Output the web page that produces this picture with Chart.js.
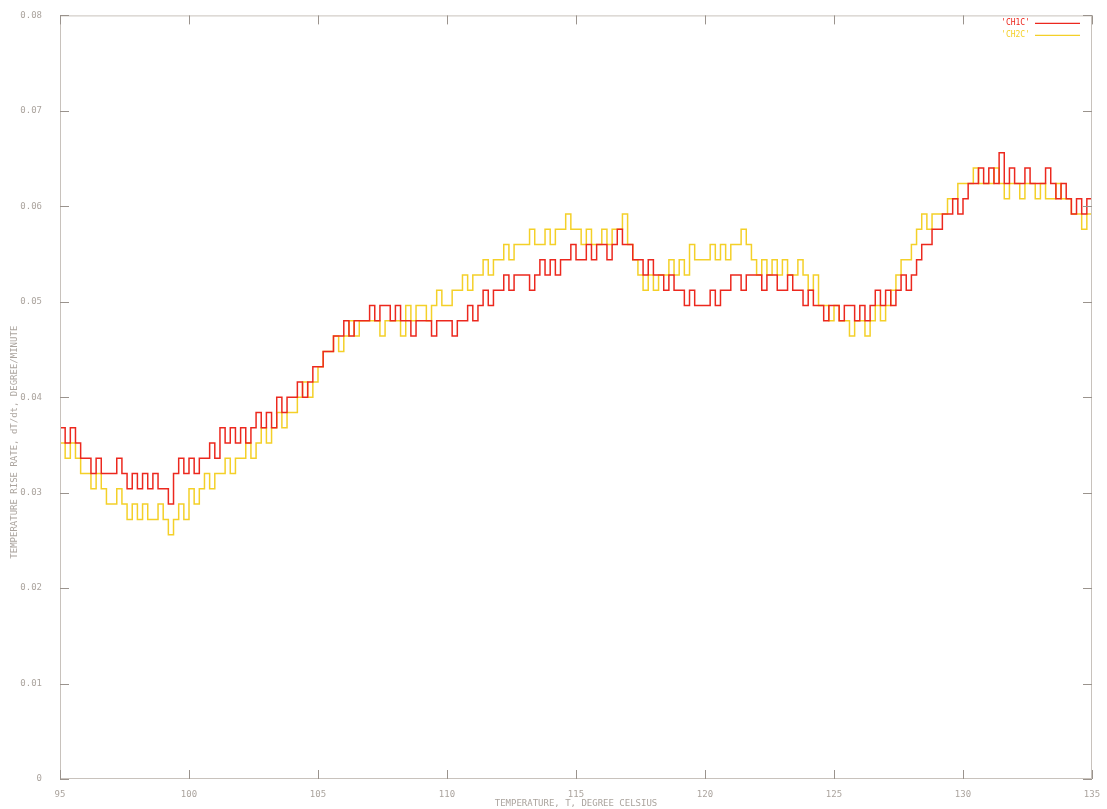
<!DOCTYPE html>
<html>
<head>
<meta charset="utf-8">
<script src="https://cdn.jsdelivr.net/npm/chart.js@4/dist/chart.umd.min.js"></script>
<style>
html,body{margin:0;padding:0;background:#fff;}
#wrap{width:1107px;height:809px;position:relative;}
</style>
</head>
<body>
<div id="wrap"><canvas id="c" width="1107" height="809"></canvas></div>
<script>
// Temperature grid (degree Celsius), 0.2 deg sampling from 95 to 135
const tStart = 95;
const tStep = 0.2;
const seriesNames = ["'CH1C'", "'CH2C'"];
const xTickLabels = [95, 100, 105, 110, 115, 120, 125, 130, 135];
const yTickLabels = [0, 0.01, 0.02, 0.03, 0.04, 0.05, 0.06, 0.07, 0.08];
const yTitle = 'TEMPERATURE RISE RATE, dT/dt, DEGREE/MINUTE';
const xTitle = 'TEMPERATURE, T, DEGREE CELSIUS';

// dT/dt, degree/minute — channel 1 (red)
const ch1 = [
  0.0368,0.0352,0.0368,0.0352,0.0336,
  0.0336,0.0320,0.0336,0.0320,0.0320,
  0.0320,0.0336,0.0320,0.0304,0.0320,
  0.0304,0.0320,0.0304,0.0320,0.0304,
  0.0304,0.0288,0.0320,0.0336,0.0320,
  0.0336,0.0320,0.0336,0.0336,0.0352,
  0.0336,0.0368,0.0352,0.0368,0.0352,
  0.0368,0.0352,0.0368,0.0384,0.0368,
  0.0384,0.0368,0.0400,0.0384,0.0400,
  0.0400,0.0416,0.0400,0.0416,0.0432,
  0.0432,0.0448,0.0448,0.0464,0.0464,
  0.0480,0.0464,0.0480,0.0480,0.0480,
  0.0496,0.0480,0.0496,0.0496,0.0480,
  0.0496,0.0480,0.0480,0.0464,0.0480,
  0.0480,0.0480,0.0464,0.0480,0.0480,
  0.0480,0.0464,0.0480,0.0480,0.0496,
  0.0480,0.0496,0.0512,0.0496,0.0512,
  0.0512,0.0528,0.0512,0.0528,0.0528,
  0.0528,0.0512,0.0528,0.0544,0.0528,
  0.0544,0.0528,0.0544,0.0544,0.0560,
  0.0544,0.0544,0.0560,0.0544,0.0560,
  0.0560,0.0544,0.0560,0.0576,0.0560,
  0.0560,0.0544,0.0544,0.0528,0.0544,
  0.0528,0.0528,0.0512,0.0528,0.0512,
  0.0512,0.0496,0.0512,0.0496,0.0496,
  0.0496,0.0512,0.0496,0.0512,0.0512,
  0.0528,0.0528,0.0512,0.0528,0.0528,
  0.0528,0.0512,0.0528,0.0528,0.0512,
  0.0512,0.0528,0.0512,0.0512,0.0496,
  0.0512,0.0496,0.0496,0.0480,0.0496,
  0.0496,0.0480,0.0496,0.0496,0.0480,
  0.0496,0.0480,0.0496,0.0512,0.0496,
  0.0512,0.0496,0.0512,0.0528,0.0512,
  0.0528,0.0544,0.0560,0.0560,0.0576,
  0.0576,0.0592,0.0592,0.0608,0.0592,
  0.0608,0.0624,0.0624,0.0640,0.0624,
  0.0640,0.0624,0.0656,0.0624,0.0640,
  0.0624,0.0624,0.0640,0.0624,0.0624,
  0.0624,0.0640,0.0624,0.0608,0.0624,
  0.0608,0.0592,0.0608,0.0592,0.0608,
  0.0592
];

// dT/dt, degree/minute — channel 2 (yellow)
const ch2 = [
  0.0352,0.0336,0.0352,0.0336,0.0320,
  0.0320,0.0304,0.0320,0.0304,0.0288,
  0.0288,0.0304,0.0288,0.0272,0.0288,
  0.0272,0.0288,0.0272,0.0272,0.0288,
  0.0272,0.0256,0.0272,0.0288,0.0272,
  0.0304,0.0288,0.0304,0.0320,0.0304,
  0.0320,0.0320,0.0336,0.0320,0.0336,
  0.0336,0.0352,0.0336,0.0352,0.0368,
  0.0352,0.0368,0.0384,0.0368,0.0384,
  0.0384,0.0400,0.0416,0.0400,0.0416,
  0.0432,0.0448,0.0448,0.0464,0.0448,
  0.0464,0.0480,0.0464,0.0480,0.0480,
  0.0480,0.0480,0.0464,0.0480,0.0480,
  0.0480,0.0464,0.0496,0.0480,0.0496,
  0.0496,0.0480,0.0496,0.0512,0.0496,
  0.0496,0.0512,0.0512,0.0528,0.0512,
  0.0528,0.0528,0.0544,0.0528,0.0544,
  0.0544,0.0560,0.0544,0.0560,0.0560,
  0.0560,0.0576,0.0560,0.0560,0.0576,
  0.0560,0.0576,0.0576,0.0592,0.0576,
  0.0576,0.0560,0.0576,0.0560,0.0560,
  0.0576,0.0560,0.0576,0.0576,0.0592,
  0.0560,0.0544,0.0528,0.0512,0.0528,
  0.0512,0.0528,0.0528,0.0544,0.0528,
  0.0544,0.0528,0.0560,0.0544,0.0544,
  0.0544,0.0560,0.0544,0.0560,0.0544,
  0.0560,0.0560,0.0576,0.0560,0.0544,
  0.0528,0.0544,0.0528,0.0544,0.0528,
  0.0544,0.0528,0.0528,0.0544,0.0528,
  0.0512,0.0528,0.0496,0.0496,0.0480,
  0.0496,0.0480,0.0480,0.0464,0.0480,
  0.0480,0.0464,0.0480,0.0496,0.0480,
  0.0496,0.0512,0.0528,0.0544,0.0544,
  0.0560,0.0576,0.0592,0.0576,0.0592,
  0.0592,0.0592,0.0608,0.0608,0.0624,
  0.0624,0.0624,0.0640,0.0624,0.0624,
  0.0624,0.0640,0.0624,0.0608,0.0624,
  0.0624,0.0608,0.0624,0.0624,0.0608,
  0.0624,0.0608,0.0608,0.0624,0.0608,
  0.0608,0.0592,0.0592,0.0576,0.0592,
  0.0576
];

const colors = ['rgb(236,40,30)', 'rgb(244,208,40)'];
const axisGray = '#c8c2bc';
const textGray = '#aba49e';
const fontFam = '"DejaVu Sans Mono", monospace';

function toXY(arr){ return arr.map((v,i)=>({x: +(tStart + i*tStep).toFixed(2), y: v})); }

const framePlugin = {
  id: 'frame',
  afterDatasetsDraw(chart){
    const {ctx, chartArea:a, scales:{x, y}} = chart;
    ctx.save();
    ctx.strokeStyle = axisGray;
    ctx.lineWidth = 1;
    ctx.strokeRect(a.left+0.5, a.top+0.5, a.right-a.left-1, a.bottom-a.top-1);
    ctx.strokeStyle = '#9a938d';
    const L = 9;
    ctx.beginPath();
    yTickLabels.forEach(v=>{
      const py = Math.round(y.getPixelForValue(v))+0.5;
      ctx.moveTo(a.left, py); ctx.lineTo(a.left+L, py);
      ctx.moveTo(a.right, py); ctx.lineTo(a.right-L, py);
    });
    xTickLabels.forEach(v=>{
      const px = Math.round(x.getPixelForValue(v))+0.5;
      ctx.moveTo(px, a.bottom); ctx.lineTo(px, a.bottom-L);
      ctx.moveTo(px, a.top); ctx.lineTo(px, a.top+L);
    });
    ctx.stroke();
    // y axis title (drawn slightly below centre, as in the original plot)
    ctx.font = '9px ' + fontFam;
    ctx.fillStyle = textGray;
    ctx.textAlign = 'center';
    ctx.textBaseline = 'middle';
    ctx.save();
    ctx.translate(15, (a.top + a.bottom)/2 + 45);
    ctx.rotate(-Math.PI/2);
    ctx.fillText(yTitle, 0, 0);
    ctx.restore();
    // legend (top right, inside)
    ctx.font = '8px ' + fontFam;
    ctx.textAlign = 'right';
    chart.data.datasets.forEach((ds,i)=>{
      const ly = a.top + 8 + i*12;
      ctx.fillStyle = ds.borderColor;
      ctx.fillText(ds.label, a.right - 62, ly);
      ctx.strokeStyle = ds.borderColor;
      ctx.lineWidth = 1.2;
      ctx.beginPath();
      ctx.moveTo(a.right - 57, ly); ctx.lineTo(a.right - 12, ly);
      ctx.stroke();
    });
    ctx.restore();
  }
};

new Chart(document.getElementById('c'), {
  type: 'line',
  data: {
    datasets: [
      { label: seriesNames[0], data: toXY(ch1), borderColor: colors[0], borderWidth: 1.5, pointRadius: 0, stepped: true, fill: false },
      { label: seriesNames[1], data: toXY(ch2), borderColor: colors[1], borderWidth: 1.5, pointRadius: 0, stepped: true, fill: false }
    ]
  },
  options: {
    responsive: false,
    animation: false,
    events: [],
    layout: { padding: { left: 0, right: 15, top: 15, bottom: 0 } },
    plugins: { legend: { display: false }, tooltip: { enabled: false } },
    scales: {
      x: {
        type: 'linear', min: 95, max: 135,
        afterBuildTicks: s => { s.ticks = xTickLabels.map(v=>({value:v})); },
        afterFit: s => { s.height = 30; },
        grid: { display: false },
        border: { display: false },
        ticks: { color: textGray, font: { family: fontFam, size: 9 }, padding: 2, maxRotation: 0, callback: v => String(v) },
        title: { display: true, text: xTitle, color: textGray, font: { family: fontFam, size: 9 }, padding: { top: 0, bottom: 0 } }
      },
      y: {
        type: 'linear', min: 0, max: 0.08,
        afterBuildTicks: s => { s.ticks = yTickLabels.map(v=>({value:v})); },
        afterFit: s => { s.width = 60; },
        grid: { display: false },
        border: { display: false },
        ticks: { color: textGray, font: { family: fontFam, size: 9 }, padding: 10, callback: v => String(v) },
        title: { display: false }
      }
    }
  },
  plugins: [framePlugin]
});
</script>
</body>
</html>
